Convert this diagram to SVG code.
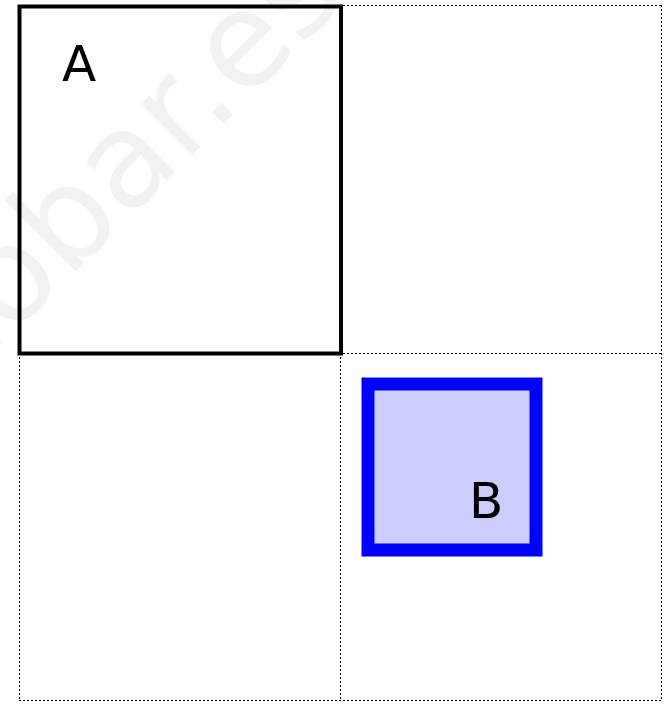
<svg xmlns="http://www.w3.org/2000/svg" width="665" height="704" viewBox="0 0 665 704">
<style>
.grid{fill:none;stroke:#000;stroke-width:1;stroke-dasharray:2 2}
.lbl{font-family:"DejaVu Sans","Liberation Sans",sans-serif;font-size:50px;fill:#000}
.wm{font-family:"DejaVu Sans","Liberation Sans",sans-serif;font-size:132px;fill:#f2f2f2}
</style>
<rect width="665" height="704" fill="#fff"/>
<text class="wm" transform="translate(-147.5,494.5) rotate(-45)">escobar.es</text>
<g id="grid">
<line class="grid" x1="19" y1="5.5" x2="662" y2="5.5"/>
<line class="grid" x1="19" y1="353.5" x2="662" y2="353.5"/>
<line class="grid" x1="19" y1="700.5" x2="662" y2="700.5"/>
<line class="grid" x1="19.5" y1="5" x2="19.5" y2="701"/>
<line class="grid" x1="340.5" y1="5" x2="340.5" y2="701"/>
<line class="grid" x1="661.5" y1="5" x2="661.5" y2="701"/>
</g>
<g id="A">
<rect x="19.5" y="6.5" width="321.5" height="347" fill="none" stroke="#000" stroke-width="4"/>
<text class="lbl" x="62" y="81">A</text>
</g>
<g id="B">
<rect x="368" y="384" width="168" height="166" fill="#ccccff" stroke="#0000ff" stroke-width="13"/>
<text class="lbl" x="469" y="518">B</text>
</g>
<g id="connectors"/>
</svg>
